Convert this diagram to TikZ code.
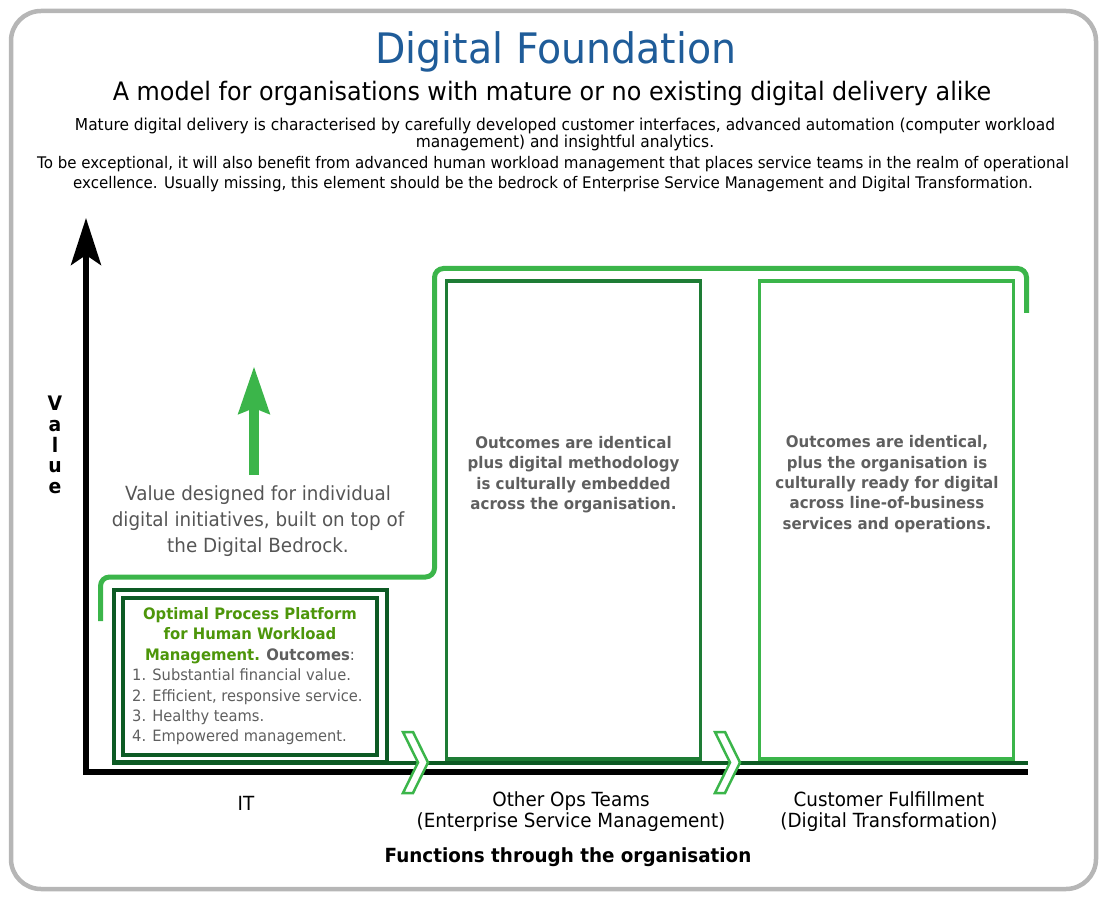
\documentclass[tikz,border=0pt]{standalone}
\usepackage{fontspec}
\setmainfont{DejaVu Sans}[FakeStretch=0.94]
\usetikzlibrary{arrows.meta}
\definecolor{titleblue}{RGB}{31,92,153}
\definecolor{framegray}{RGB}{182,182,182}
\definecolor{lightgreen}{RGB}{59,181,74}
\definecolor{midgreen}{RGB}{30,124,53}
\definecolor{darkgreen}{RGB}{13,90,36}
\definecolor{textgreen}{RGB}{77,150,10}
\definecolor{textgray}{RGB}{95,95,95}
\definecolor{softgray}{RGB}{85,85,85}
\tikzset{
  lbl/.style={inner sep=0pt, align=center},
  panel/.style={draw, line width=3.5pt, minimum width=254pt, minimum height=478pt, anchor=north west, inner sep=0pt, outer sep=0pt},
  chevron/.style={draw=lightgreen, fill=white, line width=2.5pt, line join=miter},
  axisline/.style={line width=5.5pt, black},
  riser/.style={lightgreen, line width=5pt, rounded corners=9pt},
  boxtext/.style={lbl, text=textgray, font=\fontsize{16}{20.4}\selectfont\bfseries},
  axistext/.style={lbl, font=\fontsize{19.5}{21}\selectfont},
}
\begin{document}
\begin{tikzpicture}[x=1pt,y=-1pt]
\useasboundingbox (0,0) rectangle (1106,901);
% outer frame
\draw[framegray, line width=4.5pt, rounded corners=30pt] (11,11) rectangle (1096,889);

% header texts
\node[lbl, text=titleblue, font=\fontsize{42}{44}\selectfont] (title) at (556,52) {Digital Foundation};
\node[lbl, font=\fontsize{25.4}{27}\selectfont] (subtitle) at (552,93) {A model for organisations with mature or no existing digital delivery alike};
\node[lbl, font=\fontsize{16.4}{17.4}\selectfont] (para1) at (565,134.5) {Mature digital delivery is characterised by carefully developed customer interfaces, advanced automation (computer workload\\management) and insightful analytics.};
\node[lbl, font=\fontsize{16}{20}\selectfont] (para2) at (553,174) {To be exceptional, it will also benefit from advanced human workload management that places service teams in the realm of operational\\excellence. Usually missing, this element should be the bedrock of Enterprise Service Management and Digital Transformation.};

% coordinates for axes
\coordinate (ytip) at (86,218);
\coordinate (origin) at (86,772);
\coordinate (xend) at (1028,772);
\coordinate (baseL) at (112,763);
\coordinate (baseR) at (1028,763);

% panels
\node[panel, draw=midgreen] (ops) at (446.5,281) {};
\node[panel, draw=lightgreen] (cust) at (759.5,281) {};

% base line and axes
\draw[darkgreen, line width=4.5pt] (baseL) -- (baseR);
\draw[axisline, {Stealth[length=47pt, width=30pt, inset=10pt]}-, line join=miter] (ytip) -- (origin) -- (xend);

% optimal process platform boxes
\node[draw=darkgreen, line width=4.5pt, minimum width=273pt, minimum height=172pt, anchor=north west, inner sep=0pt, outer sep=0pt] (opouter) at (114,590) {};
\node[draw=darkgreen, line width=3.5pt, minimum width=254pt, minimum height=157pt, anchor=north west, inner sep=0pt, outer sep=0pt] (opinner) at (123,598) {};
\node[lbl, font=\fontsize{15.8}{20.4}\selectfont] (ophead) at (250,635.5) {\color{textgreen}\bfseries Optimal Process Platform\\\color{textgreen}\bfseries for Human Workload\\{\color{textgreen}\bfseries Management.} {\color{textgray}\bfseries Outcomes}{\color{textgray}:}};
\node[lbl, align=left, anchor=west, text=textgray, font=\fontsize{15.6}{20.4}\selectfont] (oplist) at (132,707) {1. Substantial financial value.\\2. Efficient, responsive service.\\3. Healthy teams.\\4. Empowered management.};

% step riser line
\draw[riser] (100.5,621) -- (100.5,577) -- (434.5,577) -- (434.5,268.5) -- (1026.5,268.5) -- (1026.5,313);

% chevrons
\draw[chevron] (403,732) -- (413,732) -- (428,762.5) -- (413,793) -- (403,793) -- (418,762.5) -- cycle;
\draw[chevron] (715,732) -- (725,732) -- (740,762.5) -- (725,793) -- (715,793) -- (730,762.5) -- cycle;

% value arrow
\coordinate (gbase) at (254,475);
\coordinate (gtip) at (254,366);
\draw[lightgreen, line width=10pt, -{Stealth[length=47pt, width=30pt, inset=5pt]}] (gbase) -- (gtip);
\node[lbl, text=softgray, font=\fontsize{19.5}{26}\selectfont] (valuetext) at (258,521) {Value designed for individual\\digital initiatives, built on top of\\the Digital Bedrock.};

% panel texts
\node[boxtext] (opstext) at (573.5,474.5) {Outcomes are identical\\plus digital methodology\\is culturally embedded\\across the organisation.};
\node[boxtext] (custtext) at (887,484) {Outcomes are identical,\\plus the organisation is\\culturally ready for digital\\across line-of-business\\services and operations.};

% axis labels
\node[lbl, font=\fontsize{20}{20.75}\selectfont\bfseries] (ylabel) at (55,445) {V\\a\\l\\u\\e};
\node[axistext] (itlabel) at (246,803) {IT};
\node[axistext] (opslabel) at (571,811.5) {Other Ops Teams\\(Enterprise Service Management)};
\node[axistext] (custlabel) at (889,811.5) {Customer Fulfillment\\(Digital Transformation)};
\node[lbl, font=\fontsize{19.5}{21}\selectfont\bfseries] (xlabel) at (568,857) {Functions through the organisation};
\end{tikzpicture}
\end{document}
